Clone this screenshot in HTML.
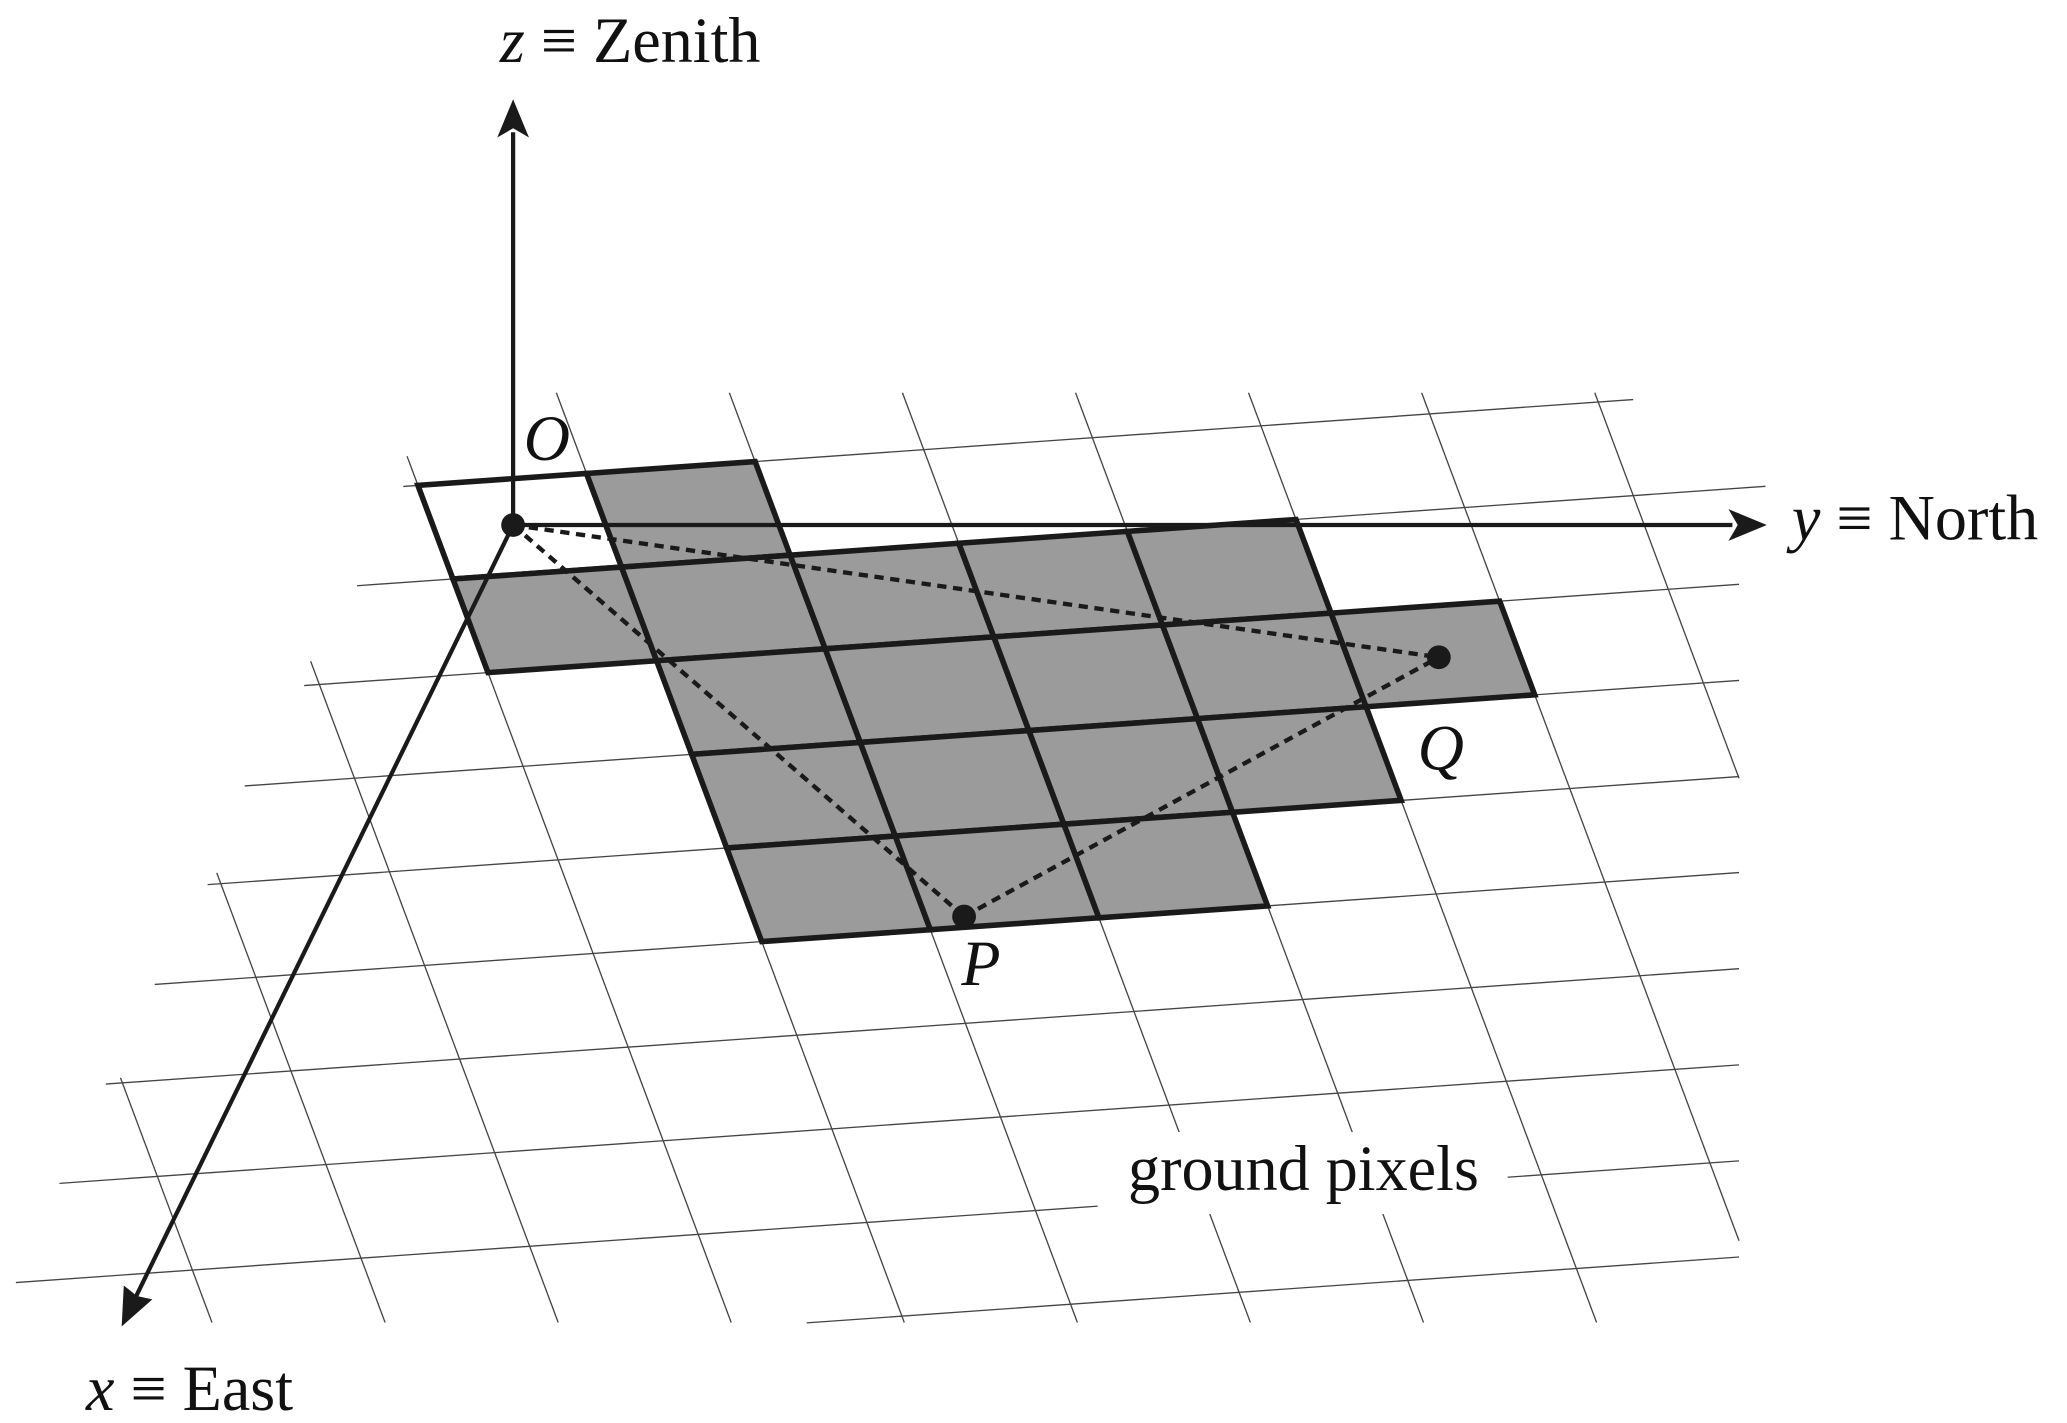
<!DOCTYPE html>
<html><head><meta charset="utf-8"><style>html,body{margin:0;padding:0;background:#fff}svg{display:block}</style></head>
<body>
<svg width="2067" height="1423" viewBox="0 0 1563 1076" xmlns="http://www.w3.org/2000/svg">
<rect width="1563" height="1076" fill="#fff"/>
<g stroke="#444" stroke-width="1" fill="none">
<line x1="305" y1="367.8" x2="1235" y2="302.1"/>
<line x1="270" y1="442.9" x2="1335" y2="367.7"/>
<line x1="230" y1="518.4" x2="1315" y2="441.8"/>
<line x1="185" y1="594.3" x2="1315" y2="514.5"/>
<line x1="157" y1="668.9" x2="1315" y2="587.2"/>
<line x1="117" y1="744.4" x2="1315" y2="659.8"/>
<line x1="80" y1="819.7" x2="1315" y2="732.5"/>
<line x1="45" y1="894.8" x2="1315" y2="805.2"/>
<line x1="12" y1="969.8" x2="1315" y2="877.8"/>
<line x1="610" y1="1000.3" x2="1315" y2="950.5"/>
<line x1="307.8" y1="345" x2="552.9" y2="1000"/>
<line x1="420.7" y1="297" x2="683.8" y2="1000"/>
<line x1="551.5" y1="297" x2="814.7" y2="1000"/>
<line x1="682.4" y1="297" x2="945.5" y2="1000"/>
<line x1="813.3" y1="297" x2="1076.4" y2="1000"/>
<line x1="944.1" y1="297" x2="1207.3" y2="1000"/>
<line x1="1075" y1="297" x2="1315" y2="938.2"/>
<line x1="1205.9" y1="297" x2="1315" y2="588.5"/>
<line x1="234.9" y1="500" x2="422.1" y2="1000"/>
<line x1="163.9" y1="660" x2="291.2" y2="1000"/>
<line x1="91.1" y1="815" x2="160.3" y2="1000"/>
</g>
<rect x="830" y="856" width="310" height="62" fill="#fff"/>
<text x="853" y="900" font-family="Liberation Serif, serif" font-size="48.5" fill="#111">ground pixels</text>

<g stroke="#1a1a1a" stroke-width="4.2" stroke-linejoin="miter">
<polygon points="316,367 443.5,358 470,428.8 342.5,437.8" fill="#fff"/>
<polygon points="443.5,358 571,349 597.5,419.8 470,428.8" fill="#9b9b9b"/>
<polygon points="342.5,437.8 470,428.8 496.5,499.6 369,508.6" fill="#9b9b9b"/>
<polygon points="470,428.8 597.5,419.8 624,490.6 496.5,499.6" fill="#9b9b9b"/>
<polygon points="597.5,419.8 725,410.8 751.5,481.6 624,490.6" fill="#9b9b9b"/>
<polygon points="725,410.8 852.5,401.8 879,472.6 751.5,481.6" fill="#9b9b9b"/>
<polygon points="852.5,401.8 980,392.8 1006.5,463.6 879,472.6" fill="#9b9b9b"/>
<polygon points="496.5,499.6 624,490.6 650.5,561.4 523,570.4" fill="#9b9b9b"/>
<polygon points="624,490.6 751.5,481.6 778,552.4 650.5,561.4" fill="#9b9b9b"/>
<polygon points="751.5,481.6 879,472.6 905.5,543.4 778,552.4" fill="#9b9b9b"/>
<polygon points="879,472.6 1006.5,463.6 1033,534.4 905.5,543.4" fill="#9b9b9b"/>
<polygon points="1006.5,463.6 1134,454.6 1160.5,525.4 1033,534.4" fill="#9b9b9b"/>
<polygon points="523,570.4 650.5,561.4 677,632.2 549.5,641.2" fill="#9b9b9b"/>
<polygon points="650.5,561.4 778,552.4 804.5,623.2 677,632.2" fill="#9b9b9b"/>
<polygon points="778,552.4 905.5,543.4 932,614.2 804.5,623.2" fill="#9b9b9b"/>
<polygon points="905.5,543.4 1033,534.4 1059.5,605.2 932,614.2" fill="#9b9b9b"/>
<polygon points="549.5,641.2 677,632.2 703.5,703 576,712" fill="#9b9b9b"/>
<polygon points="677,632.2 804.5,623.2 831,694 703.5,703" fill="#9b9b9b"/>
<polygon points="804.5,623.2 932,614.2 958.5,685 831,694" fill="#9b9b9b"/>
</g>

<g stroke="#1a1a1a" stroke-width="3.3" stroke-dasharray="7,5" fill="none">
<line x1="388" y1="397" x2="1088" y2="497"/>
<line x1="388" y1="397" x2="729" y2="693"/>
<line x1="729" y1="693" x2="1088" y2="497"/>
</g>

<g stroke="#1a1a1a" stroke-width="3.2" fill="none">
<line x1="388" y1="397" x2="388" y2="100"/>
<line x1="388" y1="397" x2="1310" y2="397"/>
<line x1="388" y1="397" x2="103" y2="980"/>
</g>
<g fill="#1a1a1a">
<polygon points="388,75 376,104 388,97 400,104"/>
<polygon points="1336,397 1307,385 1314,397 1307,409"/>
<polygon points="92,1003 93.6,972 103.5,980 115.2,982.5"/>
<circle cx="388" cy="397" r="9"/>
<circle cx="1088" cy="497" r="9"/>
<circle cx="729" cy="693" r="9"/>
</g>

<g font-family="Liberation Serif, serif" font-size="48.5" fill="#111">
<text x="378" y="47"><tspan font-style="italic">z</tspan> ≡ Zenith</text>
<text x="1355" y="408"><tspan font-style="italic">y</tspan> ≡ North</text>
<text x="65" y="1066"><tspan font-style="italic">x</tspan> ≡ East</text>
<text x="396" y="348" font-style="italic">O</text>
<text x="1072" y="582" font-style="italic">Q</text>
<text x="727" y="745" font-style="italic">P</text>
</g>
</svg>
</body></html>
